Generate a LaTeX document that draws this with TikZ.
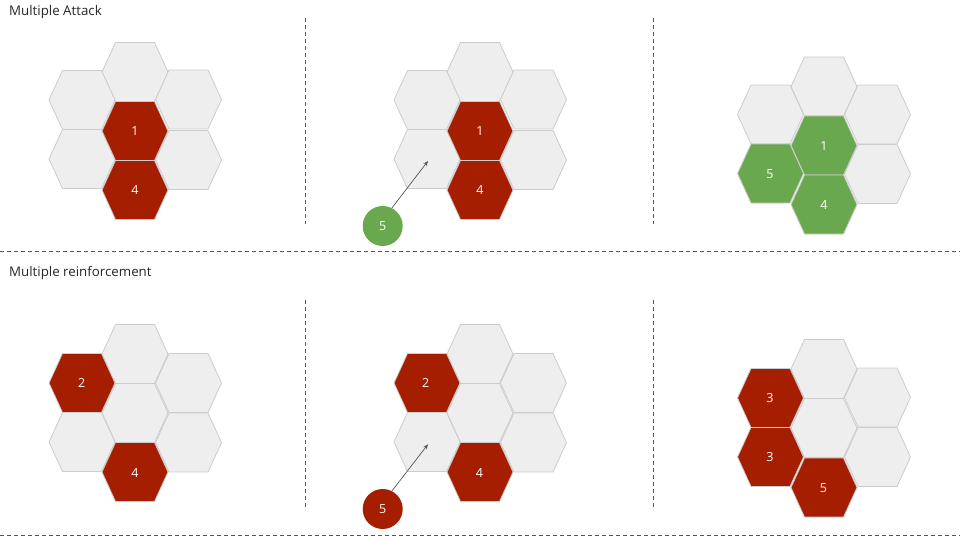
\documentclass[tikz,border=0pt]{standalone}
\usepackage{fontspec}
\setmainfont{Open Sans}
\usetikzlibrary{arrows.meta}
\definecolor{hexred}{HTML}{A61E00}
\definecolor{hexgreen}{HTML}{6AA84F}
\definecolor{hexgray}{HTML}{EEEEEE}
\definecolor{hexline}{HTML}{CCCCCC}
\definecolor{darkline}{HTML}{555555}
\tikzset{
  cellgray/.style={fill=hexgray,draw=hexline,line width=0.8pt,line join=round},
  cellred/.style={fill=hexred,draw=hexline,line width=0.8pt,line join=round},
  cellgreen/.style={fill=hexgreen,draw=hexline,line width=0.8pt,line join=round},
  num/.style={text=white,font=\fontsize{12.5}{14}\selectfont},
  title/.style={anchor=base west,text=black!85,font=\fontsize{13.3}{16}\selectfont,inner sep=0pt},
  sep/.style={draw=darkline,line width=0.9pt,dash pattern=on 4pt off 3pt},
  token/.style={circle,minimum size=40pt,inner sep=0pt,text=white,font=\fontsize{12.5}{14}\selectfont},
  move/.style={draw=darkline,line width=0.7pt,-{Stealth[length=5pt,width=4pt]}}
}
\newcommand\hexcell[3]{\path[#3,shift={(#1,#2)}] (-33,0) -- (-19.5,-29.5) -- (19.5,-29.5) -- (33,0) -- (19.5,29.5) -- (-19.5,29.5) -- cycle;}
\begin{document}
\begin{tikzpicture}[x=1pt,y=-1pt]
\useasboundingbox (0,0) rectangle (960,540);
% separators
\draw[sep] (0,251) -- (960,251);
\draw[sep] (0,535) -- (960,535);
\draw[sep] (305.3,18) -- (305.3,224);
\draw[sep] (653.3,18) -- (653.3,224);
\draw[sep] (305.3,300) -- (305.3,507);
\draw[sep] (653.3,300) -- (653.3,507);
\node[title] (t1) at (9,16) {Multiple Attack};
\node[title] (t2) at (9,276) {Multiple reinforcement};

% ---------- Panel 1 ----------
\hexcell{135}{72}{cellgray}
\hexcell{82}{100}{cellgray}
\hexcell{82}{159}{cellgray}
\hexcell{188.5}{99.5}{cellgray}
\hexcell{188.5}{160}{cellgray}
\hexcell{135}{131}{cellred}
\hexcell{135}{190}{cellred}
\node[num] (p1a) at (135,131) {1};
\node[num] (p1b) at (135,190) {4};

% ---------- Panel 2 ----------
\hexcell{480}{72}{cellgray}
\hexcell{427}{100}{cellgray}
\hexcell{427}{159}{cellgray}
\hexcell{533.5}{99.5}{cellgray}
\hexcell{533.5}{160}{cellgray}
\hexcell{480}{131}{cellred}
\hexcell{480}{190}{cellred}
\node[num] (p2a) at (480,131) {1};
\node[num] (p2b) at (480,190) {4};
\coordinate (p2t) at (428,161);
\node[token,fill=hexgreen] (p2c) at (382.7,226) {5};
\draw[move] (p2c.63) -- (p2t);

% ---------- Panel 3 ----------
\hexcell{824}{86.5}{cellgray}
\hexcell{770.5}{114.5}{cellgray}
\hexcell{877.5}{114.5}{cellgray}
\hexcell{877.5}{174}{cellgray}
\hexcell{824}{145.5}{cellgreen}
\hexcell{770.5}{173.5}{cellgreen}
\hexcell{824}{204.5}{cellgreen}
\node[num] (p3a) at (824,146) {1};
\node[num] (p3b) at (770,174) {5};
\node[num] (p3c) at (824,205) {4};

% ---------- Panel 4 ----------
\hexcell{135}{354}{cellgray}
\hexcell{135}{413}{cellgray}
\hexcell{82}{442}{cellgray}
\hexcell{188.5}{383}{cellgray}
\hexcell{188.5}{442.5}{cellgray}
\hexcell{82}{383}{cellred}
\hexcell{135}{472}{cellred}
\node[num] (p4a) at (81.7,383) {2};
\node[num] (p4b) at (135,473) {4};

% ---------- Panel 5 ----------
\hexcell{480}{354}{cellgray}
\hexcell{480}{413}{cellgray}
\hexcell{427}{442}{cellgray}
\hexcell{533.5}{383}{cellgray}
\hexcell{533.5}{442.5}{cellgray}
\hexcell{427}{383}{cellred}
\hexcell{480}{472}{cellred}
\node[num] (p5a) at (425.7,383) {2};
\node[num] (p5b) at (479.5,473) {4};
\coordinate (p5t) at (428,444.3);
\node[token,fill=hexred] (p5c) at (382.7,509) {5};
\draw[move] (p5c.63) -- (p5t);

% ---------- Panel 6 ----------
\hexcell{824}{369}{cellgray}
\hexcell{824}{428}{cellgray}
\hexcell{877.5}{397.5}{cellgray}
\hexcell{877.5}{457}{cellgray}
\hexcell{770.5}{398}{cellred}
\hexcell{770.5}{457}{cellred}
\hexcell{824}{487.5}{cellred}
\node[num] (p6a) at (770,398) {3};
\node[num] (p6b) at (770,457) {3};
\node[num] (p6c) at (823.5,488) {5};
\end{tikzpicture}
\end{document}
